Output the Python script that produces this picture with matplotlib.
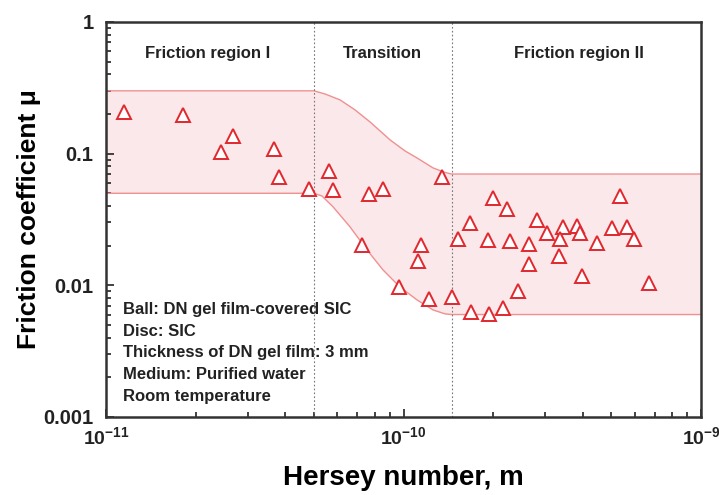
import numpy as np
import matplotlib
matplotlib.use('Agg')
import matplotlib.pyplot as plt

plt.rcParams['font.family'] = ['Liberation Sans', 'DejaVu Sans']
plt.rcParams['font.weight'] = 'bold'
plt.rcParams['mathtext.fontset'] = 'custom'
plt.rcParams['mathtext.rm'] = 'Liberation Sans:bold'
plt.rcParams['mathtext.bf'] = 'Liberation Sans:bold'

# measured points
hersey = [1.149e-11, 1.815e-11, 2.673e-11, 2.435e-11, 3.67e-11, 3.815e-11, 4.81e-11,
          5.62e-11, 5.80e-11, 7.66e-11, 8.53e-11, 7.25e-11, 1.347e-10, 1.145e-10,
          1.119e-10, 9.66e-11, 1.218e-10, 1.455e-10, 1.686e-10, 1.673e-10, 1.525e-10,
          2.0e-10, 2.228e-10, 1.923e-10, 2.28e-10, 2.641e-10, 2.641e-10, 2.81e-10,
          3.037e-10, 3.437e-10, 3.357e-10, 3.83e-10, 3.92e-10, 3.33e-10, 4.47e-10,
          5.34e-10, 5.02e-10, 5.64e-10, 5.95e-10, 3.98e-10, 6.69e-10, 2.43e-10,
          1.94e-10, 2.16e-10]
mu = [0.207, 0.197, 0.136, 0.103, 0.1086, 0.0665, 0.054,
      0.0739, 0.053, 0.0494, 0.054, 0.0203, 0.0665, 0.0203,
      0.0153, 0.0097, 0.0079, 0.0082, 0.00628, 0.0298, 0.0225,
      0.0461, 0.038, 0.0221, 0.0217, 0.0206, 0.01454, 0.0314,
      0.025, 0.0278, 0.0225, 0.0282, 0.025, 0.0167, 0.021,
      0.0477, 0.0273, 0.0278, 0.0225, 0.0118, 0.0104, 0.00907,
      0.00607, 0.00673]

# band boundaries
upper_x = [1e-11, 5e-11, 5.445e-11, 6.12e-11, 6.87e-11, 7.72e-11, 9.02e-11, 1.012e-10,
           1.11e-10, 1.257e-10, 1.379e-10, 1.45e-10, 1e-9]
upper_y = [0.3, 0.3, 0.284, 0.256, 0.215, 0.174, 0.127, 0.1048,
           0.0928, 0.0779, 0.072, 0.07, 0.07]
lower_x = [1e-11, 5e-11, 5.32e-11, 5.80e-11, 6.61e-11, 7.54e-11, 8.53e-11, 9.73e-11,
           1.11e-10, 1.257e-10, 1.379e-10, 1.45e-10, 1e-9]
lower_y = [0.05, 0.05, 0.0477, 0.0394, 0.0278, 0.01857, 0.0131, 0.0097,
           0.00775, 0.0065, 0.00607, 0.006, 0.006]

boundaries = [5e-11, 1.45e-10]
regions = ['Friction region I', 'Transition', 'Friction region II']
region_x = [2.2e-11, 8.5e-11, 3.9e-10]
notes = ['Ball: DN gel film-covered SIC', 'Disc: SIC', 'Thickness of DN gel film: 3 mm',
         'Medium: Purified water', 'Room temperature']

fig = plt.figure(figsize=(7.19, 4.95), dpi=100)
ax = fig.add_axes([0.1474, 0.1576, 0.8276, 0.798])
ax.set_xscale('log')
ax.set_yscale('log')
ax.set_xlim(1e-11, 1e-9)
ax.set_ylim(0.001, 1)

# band: resample boundaries on a common grid in log space
grid = np.logspace(-11, -9, 600)
up = 10 ** np.interp(np.log10(grid), np.log10(upper_x), np.log10(upper_y))
lo = 10 ** np.interp(np.log10(grid), np.log10(lower_x), np.log10(lower_y))
ax.fill_between(grid, lo, up, color='#fbe8ea', lw=0, zorder=1)
ax.plot(upper_x, upper_y, color='#f09090', lw=1.0, zorder=2)
ax.plot(lower_x, lower_y, color='#f09090', lw=1.0, zorder=2)

for b in boundaries:
    ax.axvline(b, color='#777777', lw=0.8, ls=(0, (1.5, 2)), zorder=2)

ax.plot(hersey, mu, ls='none', marker='^', ms=10, mfc='white', mec='#e0282e',
        mew=1.4, zorder=3)

for name, xr in zip(regions, region_x):
    ax.text(xr, 0.58, name, ha='center', va='center', fontsize=12,
            fontweight='bold', color='#222222')

for i, line in enumerate(notes):
    ax.text(0.028, 0.271 - i * 0.0545, line, transform=ax.transAxes, ha='left',
            va='center', fontsize=12, fontweight='bold', color='#222222')

ax.set_yticks([0.001, 0.01, 0.1, 1])
ax.set_yticklabels(['0.001', '0.01', '0.1', '1'])
ax.set_xticks([1e-11, 1e-10, 1e-9])
ax.set_xticklabels([r'$10^{-11}$', r'$10^{-10}$', r'$10^{-9}$'])
ax.tick_params(which='both', direction='in', top=False, right=False,
               labelsize=14.5, colors='#222222', width=1.2)
ax.tick_params(axis='x', labelsize=14)
ax.tick_params(which='major', length=6)
ax.tick_params(which='minor', length=3.5)
ax.tick_params(axis='x', pad=7)
ax.tick_params(axis='y', pad=9)
for s in ax.spines.values():
    s.set_linewidth(1.8)
    s.set_color('#333333')

ax.set_xlabel('Hersey number, m', fontsize=20, fontweight='bold', labelpad=11)
ax.set_ylabel('Friction coefficient \u03bc', fontsize=19, fontweight='bold', labelpad=2)

fig.savefig('out.png', dpi=100)
